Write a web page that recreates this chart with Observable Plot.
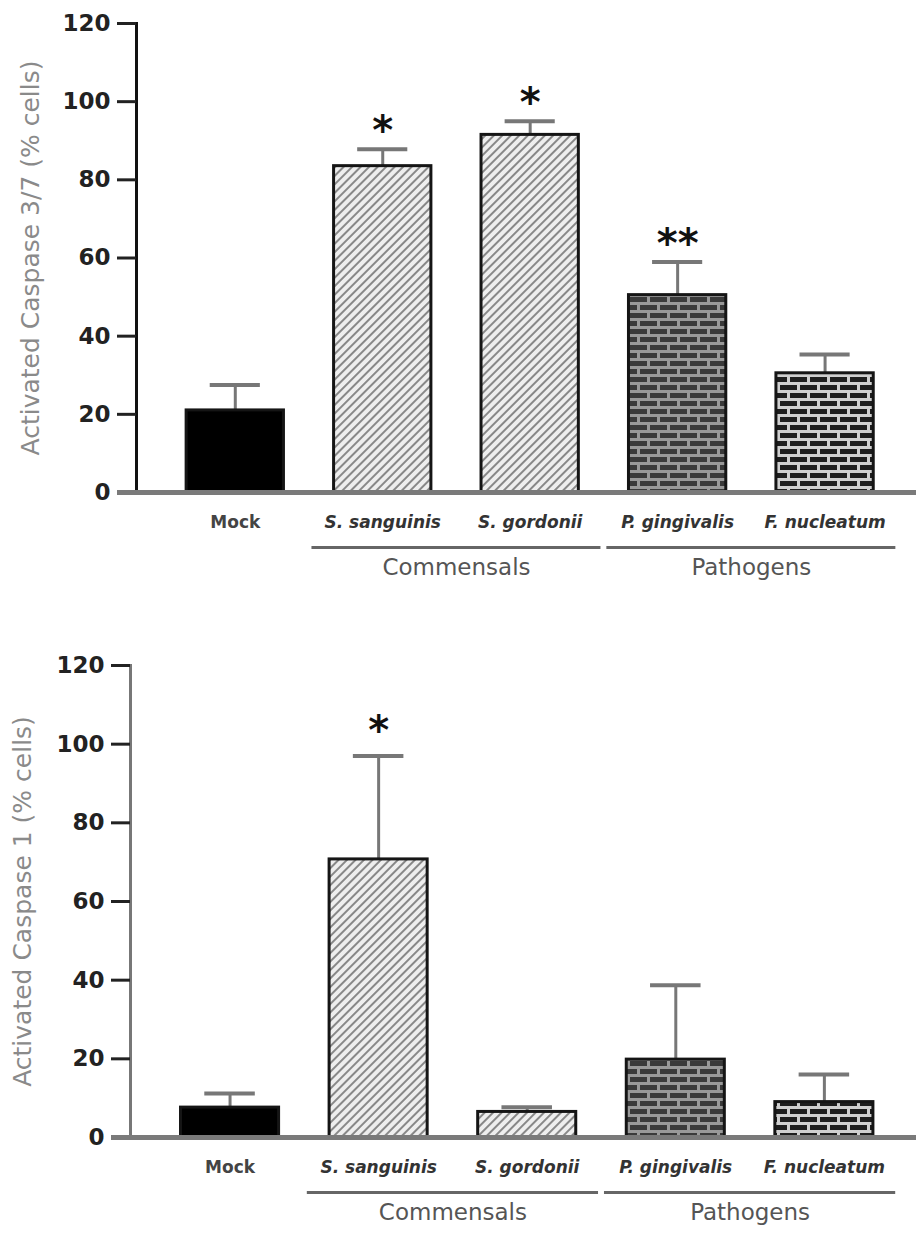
<!DOCTYPE html>
<html>
<head>
<meta charset="utf-8">
<script src="https://cdn.jsdelivr.net/npm/d3@7"></script>
<script src="https://cdn.jsdelivr.net/npm/@observablehq/plot@0.6"></script>
<style>
  html, body { margin: 0; padding: 0; background: #fff; }
  #top, #bottom { width: 916px; }
  svg { display: block; }
</style>
</head>
<body>
<div id="top"></div>
<div id="bottom"></div>
<script>
// ---- data ----
const categories = ["Mock", "S. sanguinis", "S. gordonii", "P. gingivalis", "F. nucleatum"];
const groups = ["", "Commensals", "Commensals", "Pathogens", "Pathogens"];
const yTicks = [0, 20, 40, 60, 80, 100, 120];

const caspase37Label = "Activated Caspase 3/7 (% cells)";
const caspase37Mean = [21, 83.5, 91.5, 50.5, 30.5];
const caspase37SD = [6.5, 4.3, 3.5, 8.5, 4.8];
const caspase37Sig = ["", "*", "*", "**", ""];

const caspase1Label = "Activated Caspase 1 (% cells)";
const caspase1Mean = [7.6, 70.7, 6.5, 19.8, 9.0];
const caspase1SD = [3.6, 26.3, 1.2, 18.9, 7.0];
const caspase1Sig = ["", "*", "", "", ""];

// ---- styles ----
const fillStyle = {
  "Mock": "black",
  "S. sanguinis": "hatch",
  "S. gordonii": "hatch",
  "P. gingivalis": "brickA",
  "F. nucleatum": "brickB"
};

function addPatterns(svg, prefix) {
  const defs = d3.select(svg).insert("defs", ":first-child");
  const h = defs.append("pattern").attr("id", prefix + "hatch")
    .attr("patternUnits", "userSpaceOnUse").attr("width", 6).attr("height", 6)
    .attr("patternTransform", "rotate(45)");
  h.append("rect").attr("width", 6).attr("height", 6).attr("fill", "#eeeeee");
  h.append("line").attr("x1", 1).attr("y1", 0).attr("x2", 1).attr("y2", 6)
    .attr("stroke", "#888").attr("stroke-width", 2);
  const bricks = [["brickA", "#999", "#3a3a3a"], ["brickB", "#cfcfcf", "#1e1e1e"]];
  for (const [id, mortar, brick] of bricks) {
    const p = defs.append("pattern").attr("id", prefix + id)
      .attr("patternUnits", "userSpaceOnUse").attr("width", 20).attr("height", 16);
    p.append("rect").attr("width", 20).attr("height", 16).attr("fill", mortar);
    p.append("rect").attr("x", 0).attr("y", 1).attr("width", 17).attr("height", 5).attr("fill", brick);
    p.append("rect").attr("x", 10).attr("y", 9).attr("width", 17).attr("height", 5).attr("fill", brick);
    p.append("rect").attr("x", -10).attr("y", 9).attr("width", 17).attr("height", 5).attr("fill", brick);
  }
}

function chart({prefix, means, sds, sigs, label, height, marginTop, marginBottom, marginLeft, yAxisColor, labelDx, starDy}) {
  const data = categories.map((c, i) => ({i, cat: c, group: groups[i], mean: means[i], sd: sds[i], sig: sigs[i]}));
  const grp = Array.from(d3.group(data.filter(d => d.group), d => d.group), ([g, v]) => ({
    group: g,
    lo: d3.min(v, d => d.i),
    hi: d3.max(v, d => d.i)
  }));
  const fillFor = d => fillStyle[d.cat] === "black" ? "black" : `url(#${prefix}${fillStyle[d.cat]})`;
  const svg = Plot.plot({
    width: 916,
    height,
    marginTop,
    marginBottom,
    marginLeft,
    marginRight: 0,
    style: {fontFamily: "DejaVu Sans", background: "white", overflow: "visible"},
    x: {type: "linear", domain: [-0.67, 4.62], axis: null},
    y: {domain: [0, 120], axis: null},
    marks: [
      // y axis line
      Plot.frame({anchor: "left", stroke: yAxisColor, strokeWidth: 3}),
      Plot.axisY({ticks: yTicks, tickSize: 19, tickPadding: 7, fontSize: 23, fontWeight: "bold",
        stroke: "#222", strokeWidth: 3, color: "#222", label: null}),
      // error bars (upper only)
      Plot.ruleX(data, {x: "i", y1: "mean", y2: d => d.mean + d.sd, stroke: "#777", strokeWidth: 3}),
      Plot.ruleY(data, {y: d => d.mean + d.sd, x1: d => d.i - 0.17, x2: d => d.i + 0.17, stroke: "#777", strokeWidth: 4}),
      // bars
      Plot.rectY(data, {x1: d => d.i - 0.33, x2: d => d.i + 0.33, y: "mean", fill: fillFor,
        stroke: "#151515", strokeWidth: 3}),
      // x axis line
      Plot.ruleY([0], {stroke: "#7a7a7a", strokeWidth: 5, insetLeft: -19}),
      // significance stars
      Plot.text(data.filter(d => d.sig), {x: "i", y: d => d.mean + d.sd, text: "sig", dy: starDy,
        fontSize: 40, fontWeight: "bold", fill: "#111", lineAnchor: "bottom"}),
      // category labels
      Plot.text(data.filter(d => !d.group), {x: "i", text: "cat", frameAnchor: "bottom", dy: 35,
        fontSize: 17, fontWeight: "bold", fill: "#444"}),
      Plot.text(data.filter(d => d.group), {x: "i", text: "cat", frameAnchor: "bottom", dy: 35,
        fontSize: 17, fontWeight: "bold", fontStyle: "italic", fill: "#333"}),
      // group brackets
      Plot.ruleY(grp, {y: 0, x1: d => d.lo - 0.48, x2: d => d.hi + 0.48, dy: 55, stroke: "#666", strokeWidth: 3}),
      Plot.text(grp, {x: d => (d.lo + d.hi) / 2, text: "group", frameAnchor: "bottom", dy: 82,
        fontSize: 23, fill: "#555"}),
      // y axis title
      Plot.text([label], {text: d => d, frameAnchor: "left", rotate: -90, dx: labelDx,
        textAnchor: "middle", fontSize: 25, fill: "#8a8a8a"})
    ]
  });
  addPatterns(svg, prefix);
  return svg;
}

document.getElementById("top").append(chart({
  prefix: "a-", means: caspase37Mean, sds: caspase37SD, sigs: caspase37Sig, label: caspase37Label,
  height: 620, marginTop: 23, marginBottom: 128, marginLeft: 136, yAxisColor: "#111", labelDx: -106, starDy: -5
}));
document.getElementById("bottom").append(chart({
  prefix: "b-", means: caspase1Mean, sds: caspase1SD, sigs: caspase1Sig, label: caspase1Label,
  height: 615, marginTop: 45, marginBottom: 98, marginLeft: 130, yAxisColor: "#777", labelDx: -108, starDy: -12
}));
</script>
</body>
</html>
